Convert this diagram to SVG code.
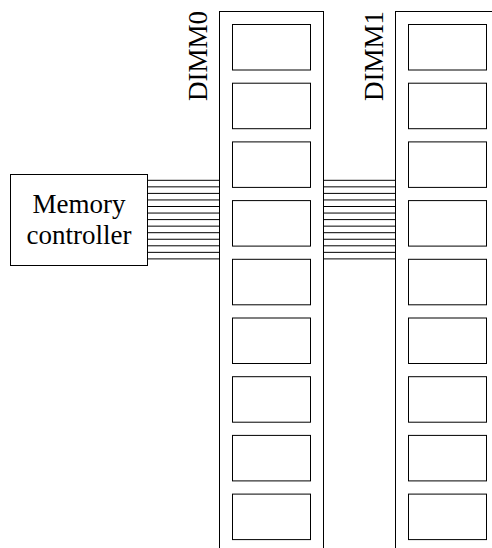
<svg xmlns="http://www.w3.org/2000/svg" width="492" height="548" viewBox="0 0 492 548">
<style>
.box{fill:#fff;stroke:#000;stroke-width:1}
text{font-family:"Liberation Serif","Times New Roman",serif;font-size:27px;fill:#000}
</style>
<defs>
<g id="chips" fill="#fff" stroke="#000" stroke-width="1">
<rect x="0" y="0" width="78" height="45.5"/>
<rect x="0" y="58.7" width="78" height="45.5"/>
<rect x="0" y="117.4" width="78" height="45.5"/>
<rect x="0" y="176.1" width="78" height="45.5"/>
<rect x="0" y="234.8" width="78" height="45.5"/>
<rect x="0" y="293.5" width="78" height="45.5"/>
<rect x="0" y="352.2" width="78" height="45.5"/>
<rect x="0" y="410.9" width="78" height="45.5"/>
<rect x="0" y="469.6" width="78" height="45.5"/>
</g>
<g id="bus" stroke="#000" stroke-width="1">
<line x1="0" y1="180.3" x2="72" y2="180.3"/>
<line x1="0" y1="186.85" x2="72" y2="186.85"/>
<line x1="0" y1="193.4" x2="72" y2="193.4"/>
<line x1="0" y1="199.95" x2="72" y2="199.95"/>
<line x1="0" y1="206.5" x2="72" y2="206.5"/>
<line x1="0" y1="213.05" x2="72" y2="213.05"/>
<line x1="0" y1="219.6" x2="72" y2="219.6"/>
<line x1="0" y1="226.15" x2="72" y2="226.15"/>
<line x1="0" y1="232.7" x2="72" y2="232.7"/>
<line x1="0" y1="239.25" x2="72" y2="239.25"/>
<line x1="0" y1="245.8" x2="72" y2="245.8"/>
<line x1="0" y1="252.35" x2="72" y2="252.35"/>
<line x1="0" y1="258.9" x2="72" y2="258.9"/>
</g>
</defs>
<g id="connectors">
<use href="#bus" x="147.5"/>
<use href="#bus" x="323.5"/>
</g>
<g id="memctrl">
<rect class="box" x="10.5" y="174.5" width="137" height="91"/>
<text x="79" y="213" text-anchor="middle">Memory</text>
<text x="79" y="244" text-anchor="middle">controller</text>
</g>
<g id="dimm0">
<rect class="box" x="219.5" y="11.5" width="104" height="560"/>
<use href="#chips" x="232.5" y="24.5"/>
<text transform="translate(206.5,101) rotate(-90)">DIMM0</text>
</g>
<g id="dimm1">
<rect class="box" x="395.5" y="11.5" width="120" height="560"/>
<use href="#chips" x="408.5" y="24.5"/>
<text transform="translate(382.5,101) rotate(-90)">DIMM1</text>
</g>
</svg>
